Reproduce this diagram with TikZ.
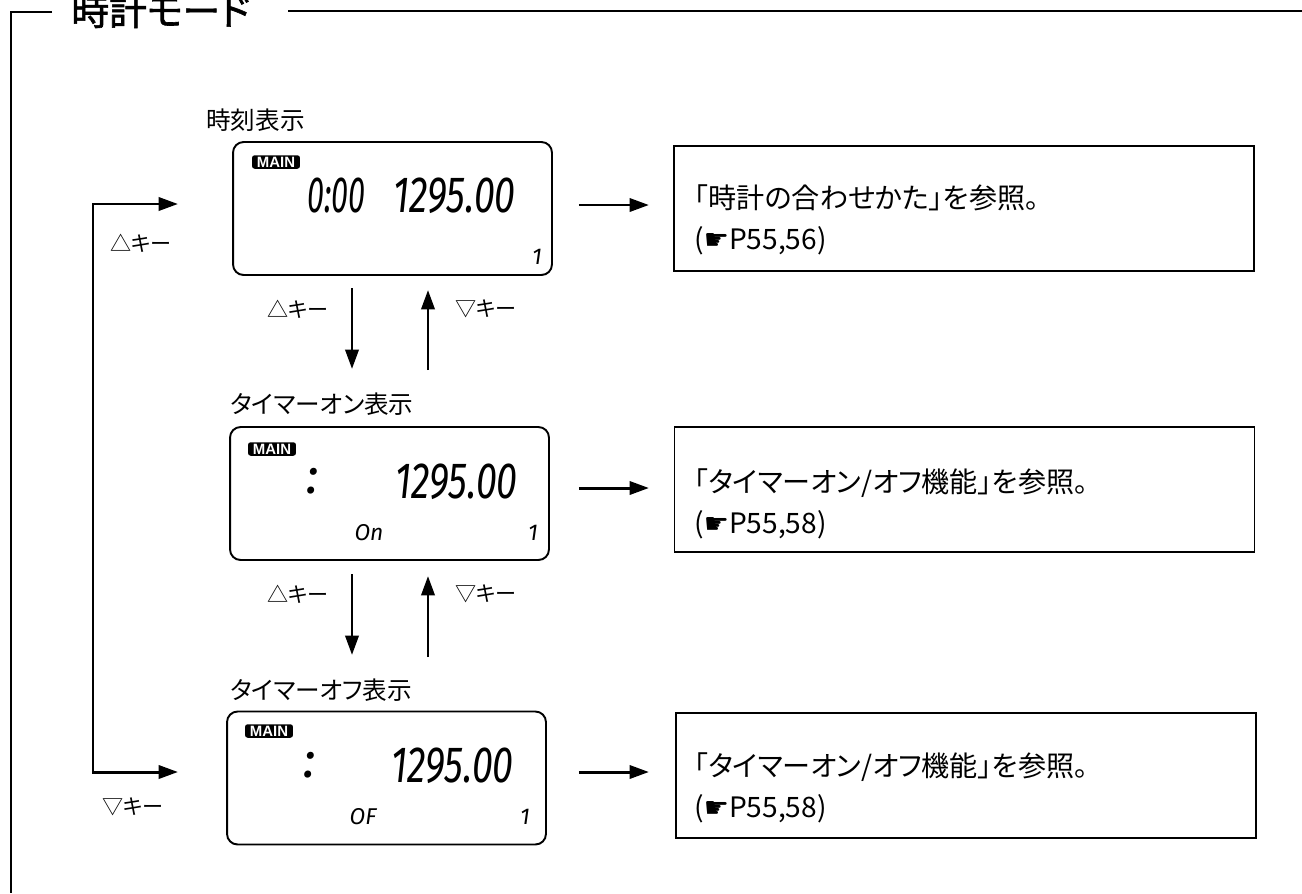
\documentclass[tikz,border=0pt]{standalone}
\usepackage{fontspec}
\usepackage{graphicx}
\setmainfont{Noto Sans CJK JP}[RawFeature=+palt]
\newfontfamily\titlefamily{Noto Sans CJK JP}[RawFeature=+palt, FakeBold=1.6]
\newfontfamily\segfamily{Fira Sans}
\newfontfamily\handfamily{DejaVu Sans}
\newfontfamily\badgefamily{Liberation Sans}
\usetikzlibrary{arrows.meta}

\begin{document}
\begin{tikzpicture}[
  x=0.02cm, y=-0.02cm,
  every node/.style={inner sep=0pt},
  lcd/.style={draw, line width=1.1pt, rounded corners=6pt,
              minimum width=6.38cm, minimum height=2.66cm},
  refbox/.style={draw, line width=0.8pt, minimum width=11.6cm,
                 minimum height=2.5cm},
  mainbadge/.style={fill=black, text=white, rounded corners=1.5pt,
                    minimum width=0.96cm, minimum height=0.27cm,
                    font=\badgefamily\bfseries\fontsize{8.5}{9}\selectfont},
  seg/.style={font=\segfamily\itshape\fontsize{29}{29}\selectfont},
  segsmall/.style={font=\segfamily\itshape\fontsize{13}{13}\selectfont},
  disptitle/.style={font=\fontsize{14}{16}\selectfont, anchor=west},
  keylabel/.style={font=\fontsize{12}{14}\selectfont},
  reftext/.style={font=\fontsize{16}{23}\selectfont, anchor=west, align=left},
  keyarrow/.style={line width=1.7pt, -{Triangle[length=11pt,width=7.5pt]}},
  frame/.style={line width=1.5pt},
]
\useasboundingbox (0,0) rectangle (1302,893);

%% ── Frame and title ──────────────────────────────────────────────────────────
\draw[frame] (52,12) -- (11,12) -- (11,893);
\draw[frame] (288,11) -- (1302,11);
\node[font=\titlefamily\fontsize{21.5}{22}\selectfont, anchor=base west] (title)
  at (71,25) {時計モード};

%% ── Clock display ────────────────────────────────────────────────────────────
\node[disptitle] (lbl1) at (206,120) {時刻表示};
\node[lcd] (lcd1) at (392.5,208.5) {};
\node[mainbadge] (main1) at (276,162) {MAIN};
\node[seg, anchor=east] (dig1) at (516,196)
  {\scalebox{0.6}[1]{0:00}\hspace{0.55cm}\scalebox{0.74}[1]{1295.00}};
\node[segsmall] (ch1) at (537,257) {1};

%% ── Timer-on display ─────────────────────────────────────────────────────────
\node[disptitle] (lbl2) at (230,404) {タイマーオン表示};
\node[lcd] (lcd2) at (389.5,493.5) {};
\node[mainbadge] (main2) at (272,449) {MAIN};
\node[seg] (col2) at (313,481) {:};
\node[seg, anchor=east] (dig2) at (518,482) {\scalebox{0.74}[1]{1295.00}};
\node[segsmall] (on2) at (369,533) {On};
\node[segsmall] (ch2) at (533,533) {1};

%% ── Timer-off display ────────────────────────────────────────────────────────
\node[disptitle] (lbl3) at (230,690) {タイマーオフ表示};
\node[lcd] (lcd3) at (386.5,778) {};
\node[mainbadge] (main3) at (269,731) {MAIN};
\node[seg] (col3) at (310,765) {:};
\node[seg, anchor=east] (dig3) at (514,766) {\scalebox{0.74}[1]{1295.00}};
\node[segsmall] (of3) at (363,817) {OF};
\node[segsmall] (ch3) at (525,817) {1};

%% ── Reference boxes ──────────────────────────────────────────────────────────
\node[refbox] (ref1) at (964,208.5) {};
\node[reftext] (txt1) at (694,220)
  {「時計の合わせかた」を参照。\\({\handfamily ☛}P55,56)};
\node[refbox] (ref2) at (964.5,489.5) {};
\node[reftext] (txt2) at (694,504)
  {「タイマーオン/オフ機能」を参照。\\({\handfamily ☛}P55,58)};
\node[refbox] (ref3) at (966,775.5) {};
\node[reftext] (txt3) at (694,788)
  {「タイマーオン/オフ機能」を参照。\\({\handfamily ☛}P55,58)};

%% ── Arrows to the reference boxes ────────────────────────────────────────────
\draw[keyarrow] (lcd1.east |- 0,205) ++(26,0) coordinate (a1) -- ++(70,0);
\draw[keyarrow] (lcd2.east |- 0,488) ++(29,0) coordinate (a2) -- ++(70,0);
\draw[keyarrow] (lcd3.east |- 0,772) ++(32,0) coordinate (a3) -- ++(70,0);

%% ── Up / down keys between displays ──────────────────────────────────────────
\coordinate (dn1s) at (352,288);  \coordinate (dn1e) at (352,369);
\coordinate (up1s) at (428,370);  \coordinate (up1e) at (428,290);
\draw[keyarrow] (dn1s) -- (dn1e);
\draw[keyarrow] (up1s) -- (up1e);
\node[keylabel] (k1a) at (298,309) {△キー};
\node[keylabel] (k1b) at (486,309) {▽キー};

\coordinate (dn2s) at (352,574);  \coordinate (dn2e) at (352,655);
\coordinate (up2s) at (428,657);  \coordinate (up2e) at (428,576);
\draw[keyarrow] (dn2s) -- (dn2e);
\draw[keyarrow] (up2s) -- (up2e);
\node[keylabel] (k2a) at (298,594) {△キー};
\node[keylabel] (k2b) at (486,594) {▽キー};

%% ── Wrap-around loop ─────────────────────────────────────────────────────────
\coordinate (loopt) at (178,204);
\coordinate (loopb) at (178,772);
\draw[keyarrow] (loopb -| 93,0) -- (loopt -| 93,0) -- (loopt);
\draw[keyarrow] (93,700) -- (loopb -| 93,0) -- (loopb);
\node[keylabel] (k3a) at (141,243) {△キー};
\node[keylabel] (k3b) at (133,807) {▽キー};

\end{tikzpicture}
\end{document}
